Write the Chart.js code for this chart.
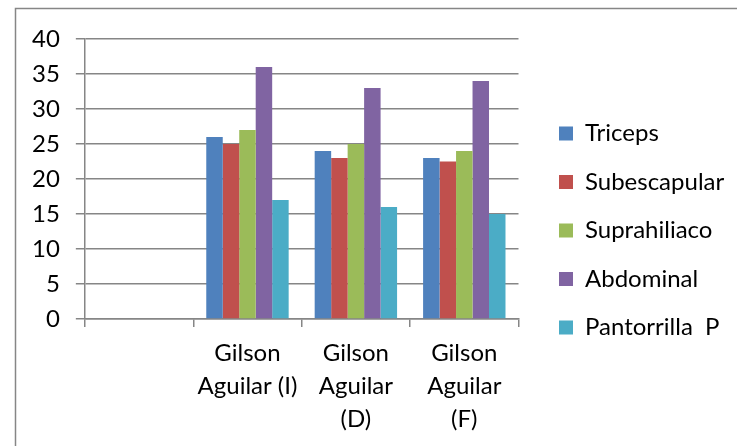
<!DOCTYPE html>
<html>
<head>
<meta charset="utf-8">
<script src="https://cdn.jsdelivr.net/npm/chart.js@4.4.0/dist/chart.umd.min.js"></script>
<style>
  html, body { margin: 0; padding: 0; background: #fff; }
  #wrap { width: 737px; height: 446px; position: relative; }
</style>
</head>
<body>
<div id="wrap"><canvas id="chart" width="737" height="446"></canvas></div>
<script>
// categorias (la primera va vacía, como en el original)
const categorias = ['', ['Gilson', 'Aguilar (I)'], ['Gilson', 'Aguilar', '(D)'], ['Gilson', 'Aguilar', '(F)']];

const triceps      = [null, 26, 24, 23];
const subescapular = [null, 25, 23, 22.5];
const suprahiliaco = [null, 27, 25, 24];
const abdominal    = [null, 36, 33, 34];
const pantorrilla  = [null, 17, 16, 15];

const yMin = 0, yMax = 40, yPaso = 5;

const gris = '#868686';
const fuente = { family: 'Lato', size: 24 };

// marco gris alrededor del gráfico
const marco = {
  id: 'marco',
  beforeDraw(chart) {
    const ctx = chart.ctx;
    ctx.save();
    ctx.strokeStyle = gris;
    ctx.lineWidth = 1.5;
    ctx.strokeRect(15.5, 8.5, 800, 500);
    ctx.restore();
  }
};

// separa un poco la leyenda del área del gráfico y le deja sitio al texto
const moverLeyenda = {
  id: 'moverLeyenda',
  afterLayout(chart) {
    const lg = chart.legend;
    lg.left += 16;
    lg.right = chart.width;
    lg.width = lg.right - lg.left;
    lg.top -= 12; lg.bottom -= 12;
  }
};

const ctx = document.getElementById('chart').getContext('2d');
new Chart(ctx, {
  type: 'bar',
  data: {
    labels: categorias,
    datasets: [
      { label: 'Triceps', data: triceps, backgroundColor: '#4F81BD' },
      { label: 'Subescapular', data: subescapular, backgroundColor: '#C0504D' },
      { label: 'Suprahiliaco', data: suprahiliaco, backgroundColor: '#9BBB59' },
      { label: 'Abdominal', data: abdominal, backgroundColor: '#8064A2' },
      { label: 'Pantorrilla  P', data: pantorrilla, backgroundColor: '#4BACC6' }
    ]
  },
  options: {
    responsive: false,
    animation: false,
    devicePixelRatio: 1,
    categoryPercentage: 0.76,
    barPercentage: 1,
    layout: { padding: { top: 39, left: 16, right: 51, bottom: 0 } },
    plugins: {
      legend: {
        position: 'right',
        labels: {
          color: '#000',
          font: fuente,
          boxWidth: 14,
          boxHeight: 14,
          padding: 24.5
        }
      },
      tooltip: { enabled: false }
    },
    scales: {
      x: {
        grid: { drawOnChartArea: false, color: gris, lineWidth: 1.5, tickLength: 8 },
        border: { color: gris, width: 1.5 },
        ticks: { color: '#000', font: { family: 'Lato', size: 24, lineHeight: 1.375 }, padding: 10, maxRotation: 0, autoSkip: false }
      },
      y: {
        min: yMin,
        max: yMax,
        grid: { color: gris, lineWidth: 1.5, tickLength: 9 },
        border: { color: gris, width: 1.5 },
        ticks: { stepSize: yPaso, color: '#000', font: fuente, padding: 16 }
      }
    }
  },
  plugins: [marco, moverLeyenda]
});
</script>
</body>
</html>
